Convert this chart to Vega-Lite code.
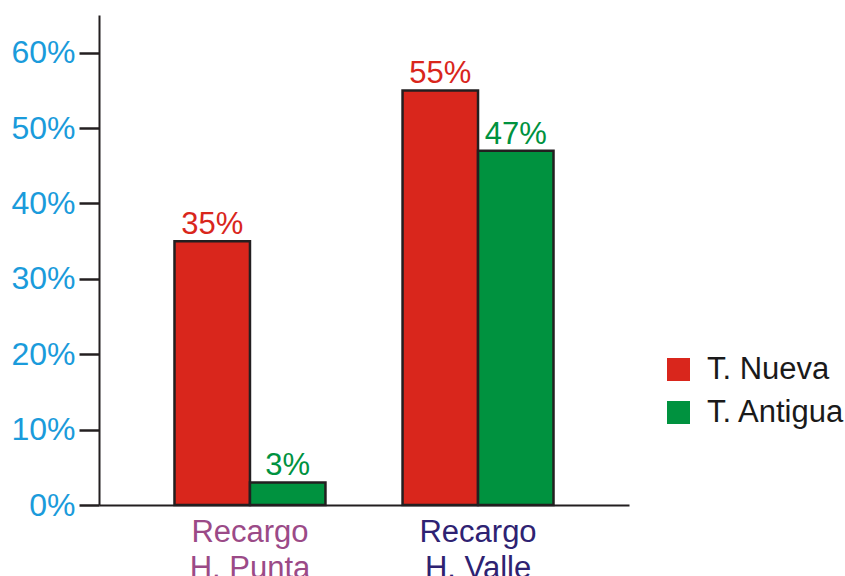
{
  "$schema": "https://vega.github.io/schema/vega-lite/v6.json",
  "width": 530,
  "height": 490,
  "autosize": {"type": "none"},
  "padding": {"left": 99, "top": 15, "right": 216, "bottom": 71},
  "background": "white",
  "config": {
    "view": {"stroke": null},
    "font": "Liberation Sans"
  },
  "data": {
    "values": [
      {"cat": "Recargo H. Punta", "serie": "T. Nueva", "v": 0.35},
      {"cat": "Recargo H. Punta", "serie": "T. Antigua", "v": 0.03},
      {"cat": "Recargo H. Valle", "serie": "T. Nueva", "v": 0.55},
      {"cat": "Recargo H. Valle", "serie": "T. Antigua", "v": 0.47}
    ]
  },
  "encoding": {
    "x": {
      "field": "cat",
      "type": "nominal",
      "scale": {"paddingInner": 0.338, "paddingOuter": 0.331},
      "axis": {
        "title": null,
        "labelAngle": 0,
        "ticks": false,
        "domainColor": "#231F20",
        "domainWidth": 2,
        "labelFont": "Liberation Sans",
        "labelFontSize": 31,
        "labelPadding": 12,
        "labelLineHeight": 36,
        "labelExpr": "['Recargo', slice(datum.label, 8)]",
        "labelColor": {"condition": {"test": "datum.value == 'Recargo H. Punta'", "value": "#9B4A87"}, "value": "#2E2272"}
      }
    },
    "xOffset": {"field": "serie", "type": "nominal", "sort": ["T. Nueva", "T. Antigua"]},
    "y": {
      "field": "v",
      "type": "quantitative",
      "scale": {"domain": [0, 0.65], "nice": false},
      "axis": {
        "title": null,
        "values": [0, 0.1, 0.2, 0.3, 0.4, 0.5, 0.6],
        "format": ".0%",
        "grid": false,
        "domainColor": "#231F20",
        "domainWidth": 2,
        "tickColor": "#231F20",
        "tickWidth": 2.5,
        "tickSize": 20,
        "labelColor": "#1A9BDB",
        "labelFont": "Liberation Sans",
        "labelFontSize": 32,
        "labelPadding": 4
      }
    },
    "color": {
      "field": "serie",
      "type": "nominal",
      "sort": ["T. Nueva", "T. Antigua"],
      "scale": {"domain": ["T. Nueva", "T. Antigua"], "range": ["#D9261C", "#00923F"]},
      "legend": {
        "title": null,
        "orient": "none",
        "legendX": 564,
        "legendY": 339,
        "padding": 0,
        "symbolType": "square",
        "symbolSize": 529,
        "symbolStrokeWidth": 0,
        "symbolOpacity": 1,
        "labelFont": "Liberation Sans",
        "labelFontSize": 31,
        "labelColor": "#1a1a1a",
        "labelOffset": 13,
        "rowPadding": 11
      }
    }
  },
  "layer": [
    {
      "mark": {"type": "bar", "stroke": "#231F20", "strokeWidth": 2.5, "opacity": 1}
    },
    {
      "mark": {"type": "text", "baseline": "alphabetic", "dy": -7, "fontSize": 31, "font": "Liberation Sans"},
      "encoding": {
        "text": {"field": "v", "type": "quantitative", "format": ".0%"}
      }
    }
  ]
}
